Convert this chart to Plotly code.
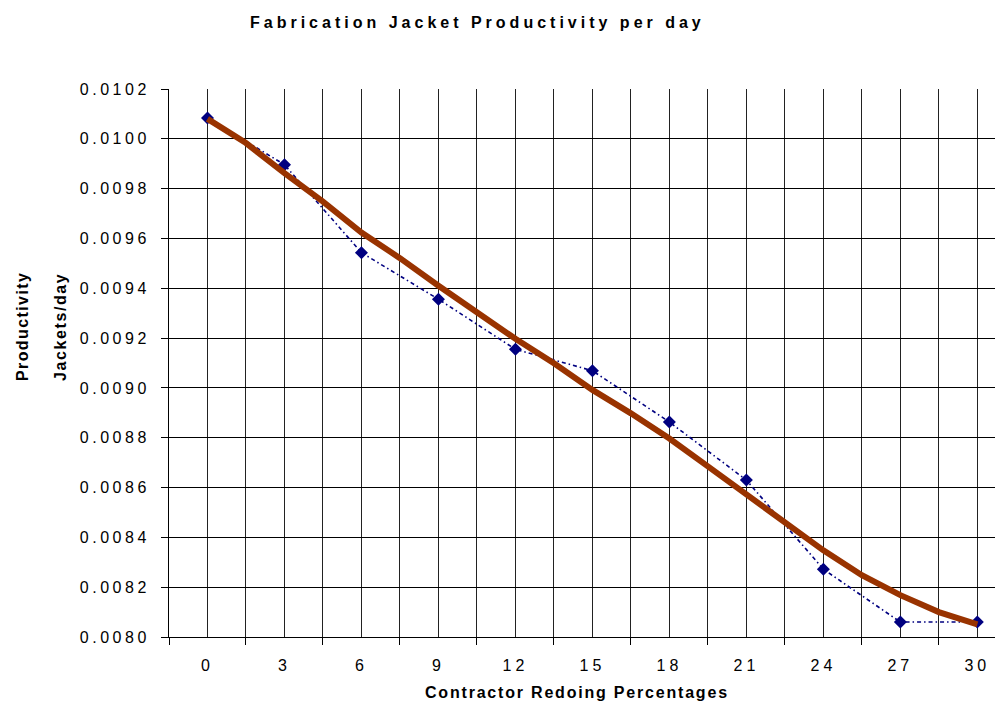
import plotly.graph_objects as go

# ---------------- data ----------------
percent = [0, 3, 6, 9, 12, 15, 18, 21, 24, 27, 30]
productivity = [0.010084, 0.009896, 0.009543, 0.009356, 0.009155, 0.009069,
                0.008863, 0.008630, 0.008272, 0.008060, 0.008060]

trend_x = [0, 1.5, 3, 4.5, 6, 7.5, 9, 10.5, 12, 13.5, 15, 16.5, 18, 19.5,
           21, 22.5, 24, 25.5, 27, 28.5, 30]
trend_y = [0.010080, 0.009983, 0.009862, 0.009748, 0.009624, 0.009521,
           0.009410, 0.009300, 0.009197, 0.009099, 0.008992, 0.008898,
           0.008797, 0.008685, 0.008574, 0.008456, 0.008348, 0.008248,
           0.008168, 0.008100, 0.008051]

x_tick_vals = [0, 3, 6, 9, 12, 15, 18, 21, 24, 27, 30]
x_tick_text = ["0", "3", "6", "9", "12", "15", "18", "21", "24", "27", "30"]
x_minor_vals = [-1.5, 1.5, 4.5, 7.5, 10.5, 13.5, 16.5, 19.5, 22.5, 25.5, 28.5, 31.5]
y_tick_vals = [0.0080, 0.0082, 0.0084, 0.0086, 0.0088, 0.0090, 0.0092,
               0.0094, 0.0096, 0.0098, 0.0100, 0.0102]
y_tick_text = ["0.0080", "0.0082", "0.0084", "0.0086", "0.0088", "0.0090",
               "0.0092", "0.0094", "0.0096", "0.0098", "0.0100", "0.0102"]

title_text = "Fabrication Jacket Productivity per day"
x_title = "Contractor Redoing Percentages"
y_title_1 = "Productivity"
y_title_2 = "Jackets/day"

# ---------------- layout geometry ----------------
# the page body adds an 8px margin, so the figure is drawn 8px smaller
OFF = 8
W, H = 1003 - OFF, 709 - OFF
L, R = 169 - OFF, 0
T, B = 89 - OFF, 72
PW = W - L - R
PH = H - T - B


def px_x(X):
    # X is a screen pixel in the reference
    return (X - OFF - L) / PW


def px_y(Y):
    return (H - B - (Y - OFF)) / PH


def spaced(s, sp):
    return f'<span style="letter-spacing:{sp}px">{s}</span>'


FONT = "Liberation Sans, Arial, sans-serif"

fig = go.Figure()
fig.add_trace(go.Scatter(
    x=percent, y=productivity, mode="lines+markers",
    line=dict(color="#000080", width=1.6, dash="4px,3px,1.5px,3px"),
    marker=dict(symbol="diamond", size=10, color="#000080"),
    showlegend=False, cliponaxis=False,
))
fig.add_trace(go.Scatter(
    x=trend_x, y=trend_y, mode="lines",
    line=dict(color="#993300", width=6),
    showlegend=False,
))

fig.update_layout(
    width=W, height=H,
    margin=dict(l=L, r=R, t=T, b=B, autoexpand=False),
    paper_bgcolor="white", plot_bgcolor="white",
    font=dict(family=FONT, size=16, color="black"),
    xaxis=dict(
        range=[-1.5, 31.0],
        tickvals=x_tick_vals,
        ticktext=[spaced(t, 4) for t in x_tick_text],
        ticks="", showgrid=True, gridcolor="#222", gridwidth=1,
        minor=dict(tickvals=x_minor_vals, ticks="outside", ticklen=7,
                   tickcolor="black", showgrid=True, gridcolor="#222",
                   gridwidth=1),
        showline=True, linecolor="black", linewidth=1,
        zeroline=False, ticklabelstandoff=14,
        tickfont=dict(family=FONT, size=16),
    ),
    yaxis=dict(
        range=[0.0080, 0.0102],
        tickvals=y_tick_vals,
        ticktext=[spaced(t, 3.5) for t in y_tick_text],
        ticks="outside", ticklen=7, tickcolor="black",
        showgrid=True, gridcolor="black", gridwidth=1,
        showline=True, linecolor="black", linewidth=1,
        zeroline=False, ticklabelstandoff=8,
        tickfont=dict(family=FONT, size=16),
    ),
    annotations=[
        dict(text=spaced(title_text, 4), xref="paper", yref="paper",
             x=px_x(477), y=px_y(23), xanchor="center", yanchor="middle",
             showarrow=False,
             font=dict(family=FONT, size=16, weight="bold", color="black")),
        dict(text=spaced(x_title, 1.8), xref="paper", yref="paper",
             x=px_x(577), y=px_y(692), xanchor="center", yanchor="middle",
             showarrow=False,
             font=dict(family=FONT, size=16, weight="bold", color="black")),
        dict(text=spaced(y_title_1, 1.4), xref="paper", yref="paper",
             x=px_x(22), y=px_y(327), xanchor="center", yanchor="middle",
             textangle=-90, showarrow=False,
             font=dict(family=FONT, size=16, weight="bold", color="black")),
        dict(text=spaced(y_title_2, 1.6), xref="paper", yref="paper",
             x=px_x(60), y=px_y(327), xanchor="center", yanchor="middle",
             textangle=-90, showarrow=False,
             font=dict(family=FONT, size=16, weight="bold", color="black")),
    ],
)

fig.write_html("out.html")
